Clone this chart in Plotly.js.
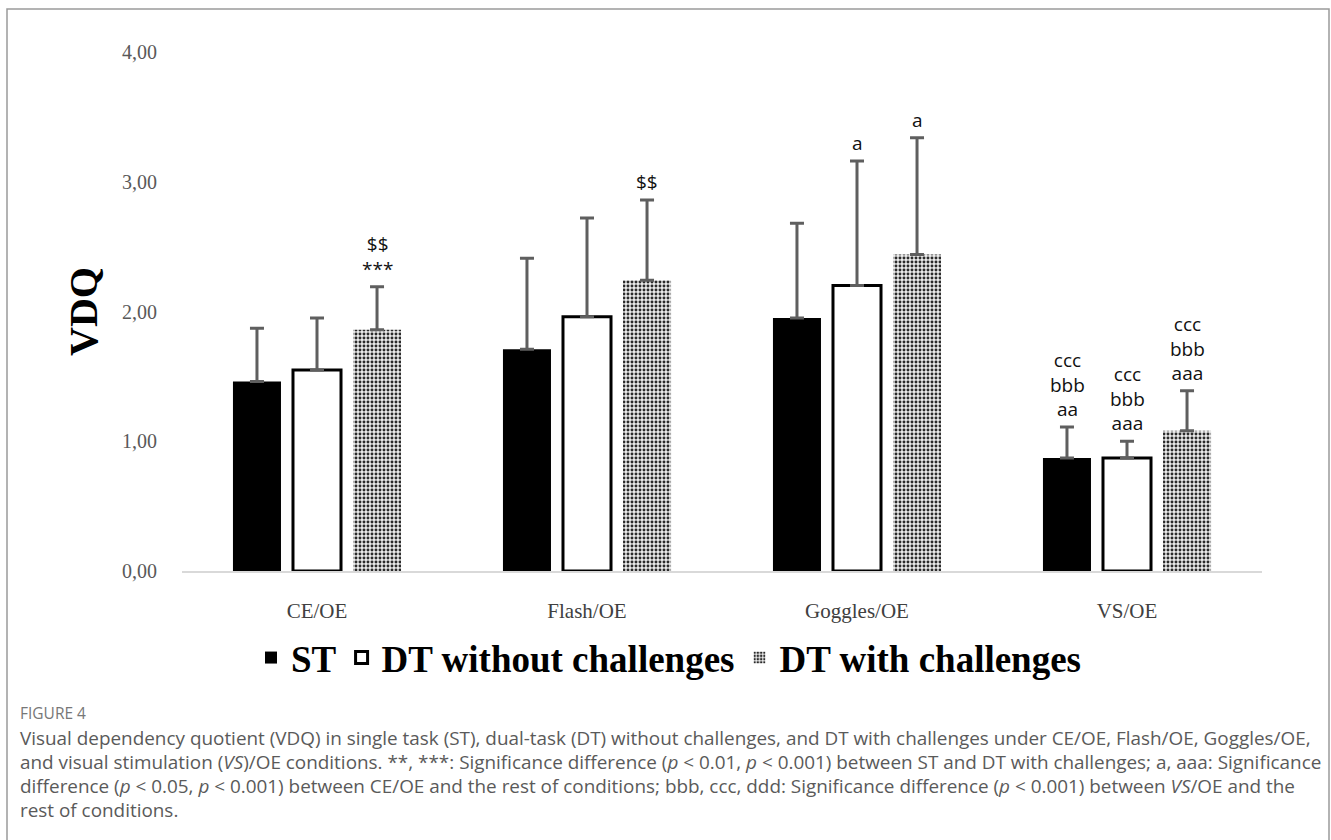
<!DOCTYPE html>
<html><head><meta charset="utf-8">
<script src="https://cdn.plot.ly/plotly-3.0.1.min.js"></script>
<style>html,body{margin:0;padding:0;background:#fff}#chart{width:1331px;height:840px}</style>
</head><body><div id="chart"></div>
<script>
// ---- data ----
const categories = ['CE/OE', 'Flash/OE', 'Goggles/OE', 'VS/OE'];
const seriesNames = ['ST', 'DT without challenges', 'DT with challenges'];
const meanST  = [1.46, 1.71, 1.95, 0.87];
const sdST    = [0.41, 0.70, 0.73, 0.24];
const meanDTw = [1.55, 1.96, 2.20, 0.87];
const sdDTw   = [0.40, 0.76, 0.96, 0.13];
const meanDTc = [1.86, 2.24, 2.44, 1.08];
const sdDTc   = [0.33, 0.62, 0.90, 0.31];
const sigST   = ['', '', '', 'ccc<br>bbb<br>aa'];
const sigDTw  = ['', '', 'a', 'ccc<br>bbb<br>aaa'];
const sigDTc  = ['$$<br>***', '$$', 'a', 'ccc<br>bbb<br>aaa'];
const yTickVals = [0, 1, 2, 3, 4];
const yTickText = ['0,00', '1,00', '2,00', '3,00', '4,00'];
const figureLabel = 'FIGURE 4';
const captionLines = [
  'Visual dependency quotient (VDQ) in single task (ST), dual-task (DT) without challenges, and DT with challenges under CE/OE, Flash/OE, Goggles/OE,',
  'and visual stimulation (<i>VS</i>)/OE conditions. **, ***: Significance difference (<i>p</i> &lt; 0.01, <i>p</i> &lt; 0.001) between ST and DT with challenges; a, aaa: Significance',
  'difference (<i>p</i> &lt; 0.05, <i>p</i> &lt; 0.001) between CE/OE and the rest of conditions; bbb, ccc, ddd: Significance difference (<i>p</i> &lt; 0.001) between <i>VS</i>/OE and the',
  'rest of conditions.'
];

// ---- geometry helpers (page pixels -> paper coords) ----
const W = 1331, H = 840;
const L = 182, R = 1262, T = 52, B = 571;
const px = x => (x - L) / (R - L);
const py = y => (B - y) / (B - T);

const means = [meanST, meanDTw, meanDTc];
const sds = [sdST, sdDTw, sdDTc];
const sigs = [sigST, sigDTw, sigDTc];

const errStyle = sd => ({
  type: 'data', symmetric: false, array: sd, arrayminus: sd.map(() => 0),
  color: '#5f5f5f', thickness: 3, width: 7
});

const traces = [
  { type: 'bar', name: seriesNames[0], x: categories, y: meanST,
    marker: { color: '#000000', line: { width: 0 } }, error_y: errStyle(sdST) },
  { type: 'bar', name: seriesNames[1], x: categories, y: meanDTw,
    marker: { color: '#ffffff', line: { color: '#000000', width: 3 } }, error_y: errStyle(sdDTw) },
  { type: 'bar', name: seriesNames[2], x: categories, y: meanDTc,
    marker: { color: '#ffffff', line: { width: 0 },
      pattern: { shape: '.', fgcolor: '#2a2a2a', bgcolor: '#ebebeb', size: 4, solidity: 0.42 } },
    error_y: errStyle(sdDTc) }
];

const annotations = [];
sigs.forEach((arr, i) => {
  arr.forEach((txt, j) => {
    if (!txt) return;
    annotations.push({
      x: categories[j], y: means[i][j] + sds[i][j], xref: 'x', yref: 'y',
      xshift: (i - 1) * 60, yshift: 3, yanchor: 'bottom', xanchor: 'center',
      text: txt, showarrow: false,
      font: { family: 'Open Sans, Noto Sans, sans-serif', size: 19, color: '#111111' }
    });
  });
});
annotations.push({
  xref: 'paper', yref: 'paper', x: px(18), y: py(713), xanchor: 'left', yanchor: 'middle',
  text: figureLabel, showarrow: false, align: 'left',
  font: { family: 'Open Sans, sans-serif', size: 15.5, color: '#777777' }
});
captionLines.forEach((line, k) => {
  annotations.push({
    xref: 'paper', yref: 'paper', x: px(18), y: py(738 + 24 * k), xanchor: 'left', yanchor: 'middle',
    text: line, showarrow: false, align: 'left',
    font: { family: 'Open Sans, sans-serif', size: 18.9, color: '#5a5a5a' }
  });
});

const layout = {
  width: W, height: H,
  margin: { l: L, r: W - R, t: T, b: H - B, pad: 0 },
  paper_bgcolor: '#ffffff', plot_bgcolor: '#ffffff',
  barmode: 'group', bargap: 0.333, bargroupgap: 0.2,
  showlegend: true,
  legend: {
    orientation: 'h', xref: 'container', yref: 'container',
    x: 669 / W, xanchor: 'center', y: 1 - 658 / H, yanchor: 'middle',
    font: { family: 'Liberation Serif, Times New Roman, serif', size: 37, color: '#000000', weight: 'bold' },
    itemwidth: 30, traceorder: 'normal', bgcolor: 'rgba(0,0,0,0)'
  },
  xaxis: {
    type: 'category', showgrid: false, zeroline: false,
    showline: true, linecolor: '#d9d9d9', linewidth: 2,
    ticks: '', ticklabelstandoff: 20,
    tickfont: { family: 'Liberation Serif, Times New Roman, serif', size: 21, color: '#404040' }
  },
  yaxis: {
    range: [0, 4], showgrid: false, zeroline: false, showline: false,
    tickvals: yTickVals, ticktext: yTickText, ticks: '', ticklabelstandoff: 24,
    tickfont: { family: 'Liberation Serif, Times New Roman, serif', size: 20, color: '#595959' },
    title: { text: 'VDQ', standoff: 12,
      font: { family: 'Liberation Serif, Times New Roman, serif', size: 40, color: '#000000', weight: 'bold' } }
  },
  annotations: annotations,
  shapes: [{
    type: 'rect', xref: 'paper', yref: 'paper',
    x0: px(7), x1: px(1329), y0: py(860), y1: py(9),
    line: { color: '#9a9a9a', width: 1.5 }, fillcolor: 'rgba(0,0,0,0)', layer: 'below'
  }]
};

Plotly.newPlot('chart', traces, layout, { displayModeBar: false, staticPlot: true });
</script>
</body></html>
